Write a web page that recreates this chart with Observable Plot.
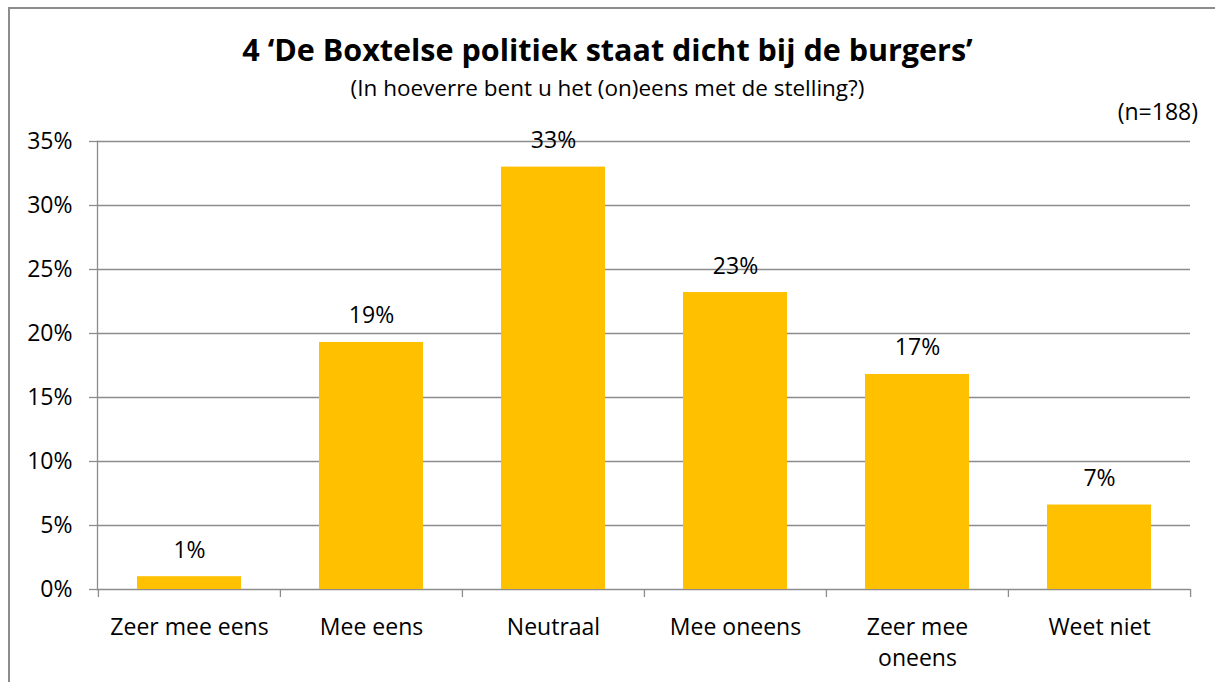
<!DOCTYPE html>
<html>
<head>
<meta charset="utf-8">
<script src="https://cdn.jsdelivr.net/npm/d3@7"></script>
<script src="https://cdn.jsdelivr.net/npm/@observablehq/plot@0.6"></script>
<style>
  html, body { margin: 0; padding: 0; background: #fff; overflow: hidden; }
  #wrap { position: relative; width: 1215px; height: 682px; font-family: "Open Sans", sans-serif; color: #000; }
  #border { position: absolute; left: 8px; top: 7px; width: 1230px; height: 700px; border: 2px solid #8c8c8c; box-sizing: border-box; }
  #title { position: absolute; left: 0; width: 1215px; top: 29px; text-align: center; font-weight: bold; font-size: 30.5px; line-height: 40px; white-space: nowrap; }
  #subtitle { position: absolute; left: 0; width: 1215px; top: 73px; text-align: center; font-size: 22.5px; line-height: 30px; white-space: nowrap; }
  #n { position: absolute; right: 17px; top: 96px; font-size: 23px; line-height: 30px; }
  #chart { position: absolute; left: 0; top: 100px; }
</style>
</head>
<body>
<div id="wrap">
  <div id="border"></div>
  <div id="title">4 ‘De Boxtelse politiek staat dicht bij de burgers’</div>
  <div id="subtitle">(In hoeverre bent u het (on)eens met de stelling?)</div>
  <div id="n">(n=188)</div>
  <div id="chart"></div>
</div>
<script>
const categories = ["Zeer mee eens", "Mee eens", "Neutraal", "Mee oneens", "Zeer mee oneens", "Weet niet"];
const tickLabels = ["Zeer mee eens", "Mee eens", "Neutraal", "Mee oneens", "Zeer mee\noneens", "Weet niet"];
const values = [1.0, 19.3, 33.0, 23.2, 16.8, 6.6];
const yTicks = [0, 5, 10, 15, 20, 25, 30, 35];

const data = categories.map((c, i) => ({category: c, value: values[i]}));

const W = 1215, H = 582;
const mL = 97, mR = 25, mT = 41, mB = 93;
const bw = (W - mL - mR) / categories.length;
const gray = "#8c8c8c";
const fontSize = 23;

const chart = Plot.plot({
  width: W,
  height: H,
  marginLeft: mL,
  marginRight: mR,
  marginTop: mT,
  marginBottom: mB,
  style: {fontFamily: "'Open Sans', sans-serif", fontSize: fontSize + "px", color: "#000", background: "transparent", overflow: "visible"},
  x: {type: "band", domain: categories, padding: 0},
  y: {domain: [0, 35]},
  marks: [
    Plot.gridY(yTicks, {stroke: gray, strokeOpacity: 1, strokeWidth: 1.3}),
    Plot.frame({anchor: "left", stroke: gray, strokeWidth: 1.3}),
    Plot.barY(data, {x: "category", y: "value", fill: "#FFC000", insetLeft: 39, insetRight: 39}),
    Plot.text(data, {x: "category", y: "value", text: d => Math.round(d.value) + "%", lineAnchor: "bottom", dy: -19, fill: "#000", fontSize: fontSize}),
    Plot.axisY({ticks: yTicks, tickSize: 8, tickPadding: 17, tickFormat: d => d + "%", stroke: gray, strokeWidth: 1.3, fontSize: fontSize, fill: "#000", label: null}),
    Plot.axisX({ticks: categories, tickSize: 8, dx: -bw / 2, tickFormat: () => "", stroke: gray, strokeWidth: 1.3, label: null}),
    Plot.axisX({ticks: [categories[categories.length - 1]], tickSize: 8, dx: bw / 2, tickFormat: () => "", stroke: gray, strokeWidth: 1.3, label: null}),
    Plot.axisX({ticks: categories, tickSize: 0, tickPadding: 23, tickFormat: d => tickLabels[categories.indexOf(d)], lineHeight: 1.37, fontSize: fontSize, fill: "#000", label: null})
  ]
});
document.getElementById("chart").appendChild(chart);
</script>
</body>
</html>
